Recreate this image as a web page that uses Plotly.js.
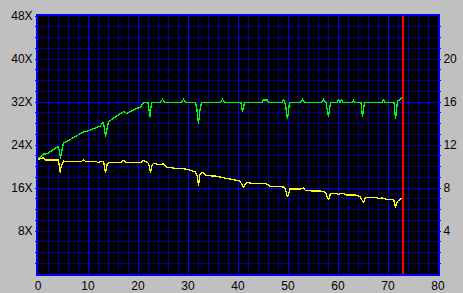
<!DOCTYPE html>
<html>
<head>
<meta charset="utf-8">
<script src="https://cdn.plot.ly/plotly-3.0.1.min.js"></script>
<style>
html,body{margin:0;padding:0;background:#c0c0c0;}
#chart{width:463px;height:293px;}
#chart .scatterlayer .js-line{shape-rendering:crispEdges;}
</style>
</head>
<body>
<div id="chart"></div>
<script>
// Green series (read speed, X)
const greenX = [0,0.5,1,1.5,2,2.5,3,3.5,4,4.3,4.5,4.8,5.1,6,7,8,8.7,9.2,9.7,10.5,11.5,12.4,13.1,13.3,13.5,13.8,14.1,15.1,16,17.1,17.7,18.5,19.7,20.5,21.1,22,22.2,22.4,22.7,23.5,24.4,24.9,25.4,28.6,29.1,29.6,31.5,31.8,32.1,32.4,32.7,36.4,36.9,37.4,40.6,40.9,41.3,44.8,45.1,45.8,46.2,48.8,49.1,49.5,49.9,50.3,52.5,52.9,53.3,56.7,57.1,57.6,58.1,58.5,59.8,60.1,60.4,60.7,61.0,62.8,63.1,63.4,64.6,64.9,65.3,68.8,69.1,69.4,71.2,71.5,71.9,72.3,72.9];
const greenY = [21.5,21.8,22.3,22.4,22.4,22.8,23.1,23.4,23.7,22.8,21.5,23.0,24.4,24.8,25.3,25.8,26.2,26.5,26.5,26.8,27.2,27.5,28.3,27.0,25.5,27.0,28.3,29.0,29.5,30.2,29.9,30.2,30.8,31.0,31.9,31.9,30.5,29.3,31.9,31.9,31.9,32.5,31.9,31.9,32.5,31.9,31.9,30.5,28.0,30.5,31.9,31.9,32.5,31.9,31.9,30.1,31.9,31.9,32.4,32.4,31.9,31.9,32.5,31.5,28.8,31.9,31.9,32.5,31.9,31.9,32.5,31.9,29.2,31.9,31.9,32.5,31.9,32.5,31.9,31.9,32.3,31.9,31.9,29.2,31.9,31.9,32.5,31.9,31.9,28.8,32.2,32.4,32.9];
// Yellow series (X)
const yellowX = [0,0.5,1,1.5,4,4.2,4.4,4.7,5.1,6,8.6,9.1,9.6,11.7,12,12.4,13.1,13.3,13.5,13.8,14.1,16.6,17.1,17.6,20.6,21.1,21.6,22.1,22.5,22.8,23.1,24.4,25.1,25.7,27.1,29.1,30.5,31.5,31.9,32.1,32.4,32.9,33.7,35.7,37.1,38.4,40.4,40.9,41.1,41.7,43.7,45.1,45.7,46.4,49.1,49.5,49.9,50.4,52.4,53.1,53.5,57.0,57.5,58.1,58.5,59.7,60.1,60.5,61.1,61.7,63.5,64.4,64.8,65.1,65.5,67.7,68.4,68.8,69.7,71.1,71.3,71.5,71.9,72.3,72.7];
const yellowY = [21.3,21.4,21.6,21.2,21.2,20.5,18.9,20.2,21.0,20.9,20.9,21.2,20.9,20.9,20.7,20.9,20.9,20.0,18.9,20.3,20.8,20.8,21.1,20.8,20.8,21.1,20.8,20.6,18.9,20.2,20.6,20.3,20.5,19.9,19.7,19.6,19.3,19.0,18.1,16.4,18.6,18.9,18.3,18.2,17.9,17.7,17.3,16.4,16.2,17.0,16.8,16.9,16.8,16.3,16.2,15.8,14.3,15.8,15.8,16.0,15.5,15.4,15.2,13.8,15.0,15.0,14.8,15.0,15.0,14.7,14.7,14.4,13.8,13.3,14.2,14.2,14.0,14.2,13.9,13.9,13.3,12.4,13.5,13.9,14.1];
// Cursor position
const cursorX = [73];
// Axis ranges
const xRange = [0, 80];
const yRange = [0, 48];
const y2Range = [0, 24];
// Tick labels
const xTickVals = [0,10,20,30,40,50,60,70,80];
const xTickText = ['0','10','20','30','40','50','60','70','80'];
const leftTickVals = [2,4,6,8,10,12,14,16,18,20,22,24,26,28,30,32,34,36,38,40,42,44,46,48];
const leftTickText = ['','','','8X','','','','16X','','','','24X','','','','32X','','','','40X','','','','48X'];
const rightTickVals = [1,2,3,4,5,6,7,8,9,10,11,12,13,14,15,16,17,18,19,20,21,22,23];
const rightTickText = ['','','','4','','','','8','','','','12','','','','16','','','','20','','',''];

const BRIGHT = '#0000ff', DARK = '#000090';
const tickFont = {family: 'Liberation Sans, Arial, sans-serif', size: 12, color: '#000000'};

const traces = [
  {x: greenX, y: greenY, type: 'scatter', mode: 'lines', line: {color: '#00ff00', width: 1.3}, hoverinfo: 'skip'},
  {x: yellowX, y: yellowY, type: 'scatter', mode: 'lines', line: {color: '#ffff00', width: 1.3}, hoverinfo: 'skip'},
  {x: [cursorX[0], cursorX[0]], y: yRange, type: 'scatter', mode: 'lines', line: {color: '#ff0000', width: 1.3}, hoverinfo: 'skip', cliponaxis: false}
];

const layout = {
  width: 463, height: 293,
  margin: {l: 38, r: 25, t: 16, b: 19, pad: 0},
  paper_bgcolor: '#c0c0c0',
  plot_bgcolor: '#000000',
  showlegend: false,
  xaxis: {
    range: xRange, tickmode: 'array', tickvals: xTickVals, ticktext: xTickText,
    showgrid: true, gridcolor: BRIGHT, gridwidth: 1,
    minor: {dtick: 2, tick0: 0, showgrid: true, gridcolor: DARK, gridwidth: 1},
    zeroline: false, showline: true, linecolor: BRIGHT, linewidth: 2, mirror: true,
    ticks: '', tickfont: tickFont, automargin: false, fixedrange: true
  },
  yaxis: {
    range: yRange, tickmode: 'linear', tick0: 0, dtick: 16,
    showticklabels: false, ticks: '',
    showgrid: true, gridcolor: BRIGHT, gridwidth: 1,
    minor: {dtick: 2, tick0: 0, showgrid: true, gridcolor: DARK, gridwidth: 1},
    zeroline: false, showline: true, linecolor: BRIGHT, linewidth: 2, mirror: true,
    automargin: false, fixedrange: true
  },
  yaxis3: {
    overlaying: 'y', side: 'left', range: yRange,
    tickmode: 'array', tickvals: leftTickVals, ticktext: leftTickText,
    ticks: 'outside', ticklen: 2, tickwidth: 1, tickcolor: BRIGHT,
    showgrid: false, zeroline: false, showline: false,
    tickfont: tickFont, automargin: false, fixedrange: true
  },
  yaxis2: {
    overlaying: 'y', side: 'right', range: y2Range,
    tickmode: 'array', tickvals: rightTickVals, ticktext: rightTickText,
    ticks: 'outside', ticklen: 2, tickwidth: 1, tickcolor: BRIGHT,
    showgrid: false, zeroline: false, showline: false,
    tickfont: tickFont, automargin: false, fixedrange: true
  }
};

// dummy traces to activate overlay axes
traces.push({x: [null], y: [null], yaxis: 'y3', type: 'scatter', mode: 'lines', hoverinfo: 'skip'});
traces.push({x: [null], y: [null], yaxis: 'y2', type: 'scatter', mode: 'lines', hoverinfo: 'skip'});

Plotly.newPlot('chart', traces, layout, {staticPlot: true, displayModeBar: false});
</script>
</body>
</html>
